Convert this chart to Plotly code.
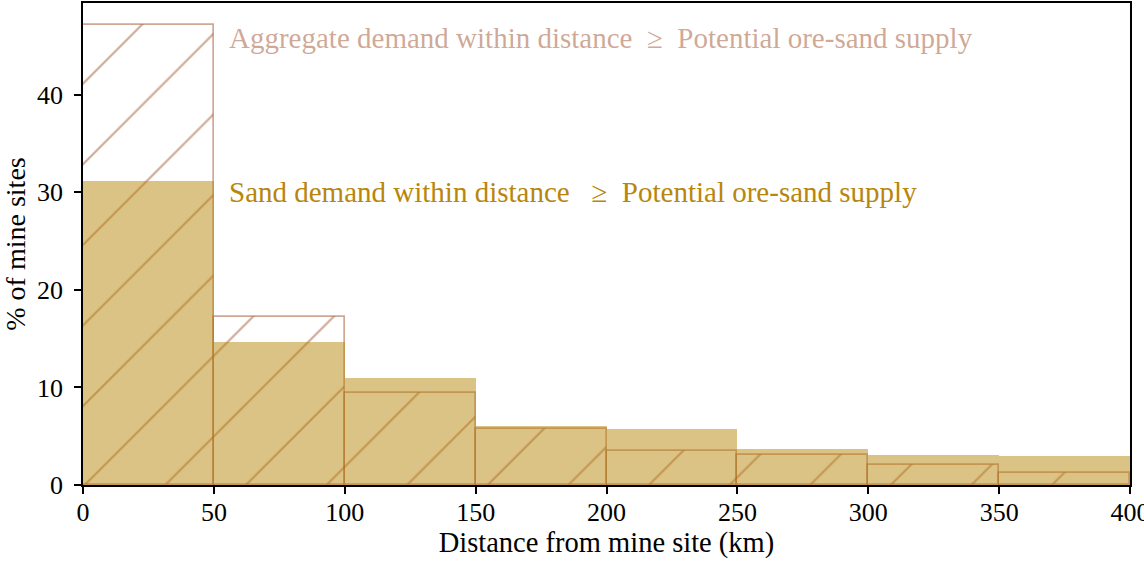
import plotly.graph_objects as go

bin_left = [0, 50, 100, 150, 200, 250, 300, 350]
bin_width = 50
sand_pct = [31.2, 14.7, 11.0, 6.0, 5.7, 3.7, 3.1, 3.0]
aggregate_pct = [47.1, 17.2, 9.4, 5.7, 3.5, 3.1, 2.0, 1.2]
x_ticks = [0, 50, 100, 150, 200, 250, 300, 350, 400]
y_ticks = [0, 10, 20, 30, 40]

centers = [b + bin_width / 2 for b in bin_left]

sand_color = "rgba(184,134,11,0.5)"
agg_color = "rgba(160,82,45,0.5)"
font_family = "Liberation Serif, Times New Roman, serif"

fig = go.Figure()
fig.add_trace(go.Bar(
    x=centers, y=aggregate_pct, width=[bin_width] * len(centers),
    marker=dict(
        color="rgba(0,0,0,0)",
        line=dict(color=agg_color, width=1.7),
        pattern=dict(shape="/", fgcolor=agg_color, bgcolor="rgba(0,0,0,0)",
                     size=57, solidity=0.038, fillmode="replace"),
    ),
    name="Aggregate demand", showlegend=False, hoverinfo="skip",
))
fig.add_trace(go.Bar(
    x=centers, y=sand_pct, width=[bin_width] * len(centers),
    marker=dict(color=sand_color, line=dict(width=0)),
    name="Sand demand", showlegend=False, hoverinfo="skip",
))

fig.add_annotation(
    x=55, y=45.8, xref="x", yref="y", xanchor="left", yanchor="middle",
    text="Aggregate demand within distance \u00a0\u2265\u00a0 Potential ore-sand supply",
    showarrow=False, font=dict(family=font_family, size=29, color="rgba(160,82,45,0.5)"),
)
fig.add_annotation(
    x=55, y=30.0, xref="x", yref="y", xanchor="left", yanchor="middle",
    text="Sand demand within distance \u00a0\u00a0\u2265\u00a0 Potential ore-sand supply",
    showarrow=False, font=dict(family=font_family, size=29, color="#B8860B"),
)

fig.update_layout(
    width=1144, height=563,
    margin=dict(l=83, r=14, t=3, b=78, autoexpand=False),
    barmode="overlay", bargap=0,
    plot_bgcolor="white", paper_bgcolor="white",
    font=dict(family=font_family, size=26, color="black"),
)
fig.update_xaxes(
    range=[0, 400], tickvals=x_ticks, ticktext=[str(v) for v in x_ticks],
    showgrid=False, zeroline=False, automargin=False,
    showline=True, linecolor="black", linewidth=1.5, mirror=True,
    ticks="outside", ticklen=7, tickwidth=1.5, tickcolor="black",
    tickfont=dict(size=26), ticklabeloverflow="allow", ticklabelstandoff=-4,
    title=dict(text="Distance from mine site (km)", font=dict(size=28.5), standoff=4),
)
fig.update_yaxes(
    range=[0, 49.4], tickvals=y_ticks, ticktext=[str(v) for v in y_ticks],
    showgrid=False, zeroline=False, automargin=False,
    showline=True, linecolor="black", linewidth=1.5, mirror=True,
    ticks="outside", ticklen=7, tickwidth=1.5, tickcolor="black",
    tickfont=dict(size=26), ticklabelstandoff=6,
    title=dict(text="% of mine sites", font=dict(size=28), standoff=8),
)

fig.write_html("out.html", config={"displayModeBar": False},
               post_script="document.body.style.margin='0';")
